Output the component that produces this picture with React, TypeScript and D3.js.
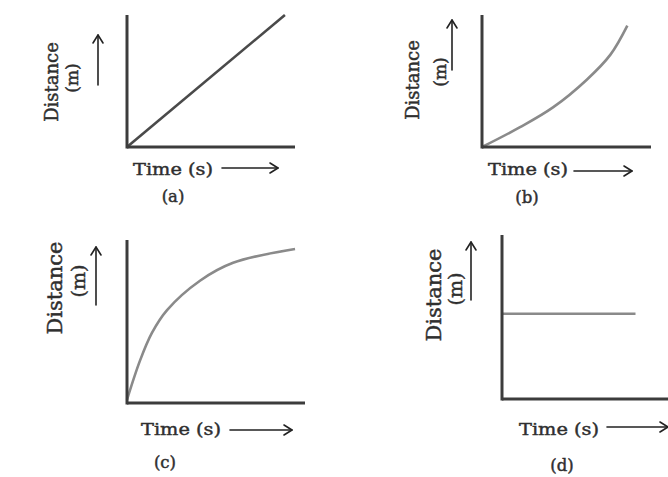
import React from 'react';
import * as d3 from 'd3';

// curve points in arbitrary units, 0..10 on both axes
const lineA = [[0, 0], [9.4, 10]];
const curveB = [[0, 0], [2.25, 1.5], [4.2, 3.0], [6.2, 5.1], [7.6, 7.0], [8.6, 9.2]];
const curveC = [[0, 0.2], [0.73, 2.6], [1.4, 4.3], [2.25, 5.7], [4.1, 7.5], [5.96, 8.6], [9.44, 9.45]];
const lineD = [[0, 5.2], [7.5, 5.2]];

const panelTags = ['(a)', '(b)', '(c)', '(d)'];
const xLabel = 'Time (s)';
const yLabel = 'Distance';
const yUnit = '(m)';

const FONT = '"DejaVu Serif", "Liberation Serif", serif';
const TXT = '#2f2f2f';

type Panel = {
  tag: string;
  data: number[][];
  ox: number; oy: number; xLen: number; yLen: number;
  curve: any; stroke: string;
  time: [number, number]; arrowX: [number, number, number];
  tagPos: [number, number];
  dist: [number, number, number]; unit: [number, number, number];
  arrowY: [number, number, number];
};

const smooth = d3.curveCatmullRom.alpha(0.5);

const panels: Panel[] = [
  { tag: panelTags[0], data: lineA, ox: 127, oy: 147, xLen: 168, yLen: 132, curve: d3.curveLinear, stroke: '#4a4a4a',
    time: [6, 28], arrowX: [95, 151, 21], tagPos: [46, 55],
    dist: [-69, -65, 18], unit: [-49, -69, 17], arrowY: [-29, -62, -112] },
  { tag: panelTags[1], data: curveB, ox: 482, oy: 147, xLen: 169, yLen: 132, curve: smooth, stroke: '#8a8a8a',
    time: [6, 28], arrowX: [92, 150, 24], tagPos: [45, 56],
    dist: [-63, -67, 18], unit: [-36, -75, 17], arrowY: [-30, -77, -127] },
  { tag: panelTags[2], data: curveC, ox: 127, oy: 403, xLen: 178, yLen: 163, curve: smooth, stroke: '#8a8a8a',
    time: [14, 32], arrowX: [103, 165, 27], tagPos: [38, 65],
    dist: [-65, -115, 21], unit: [-42, -122, 19], arrowY: [-31, -98, -156] },
  { tag: panelTags[3], data: lineD, ox: 502, oy: 399, xLen: 178, yLen: 164, curve: d3.curveLinear, stroke: '#8a8a8a',
    time: [17, 36], arrowX: [105, 166, 28], tagPos: [60, 72],
    dist: [-61, -104, 21], unit: [-40, -110, 19], arrowY: [-31, -99, -157] },
];

function Arrow({ x1, y1, x2, y2 }: { x1: number; y1: number; x2: number; y2: number }) {
  const ang = Math.atan2(y2 - y1, x2 - x1);
  const h = 8, w = 5;
  const p = (a: number, l: number) => [x2 - l * Math.cos(ang) + a * Math.sin(ang), y2 - l * Math.sin(ang) - a * Math.cos(ang)];
  const [ax, ay] = p(w, h);
  const [bx, by] = p(-w, h);
  return (
    <g stroke="#222" strokeWidth={1.6} fill="none" strokeLinecap="round" strokeLinejoin="round">
      <line x1={x1} y1={y1} x2={x2} y2={y2} />
      <polyline points={`${ax},${ay} ${x2},${y2} ${bx},${by}`} />
    </g>
  );
}

function PanelView({ p }: { p: Panel }) {
  const x = d3.scaleLinear().domain([0, 10]).range([p.ox, p.ox + p.xLen]);
  const y = d3.scaleLinear().domain([0, 10]).range([p.oy, p.oy - p.yLen]);
  const line = d3.line<number[]>().x(d => x(d[0])).y(d => y(d[1])).curve(p.curve);
  const txt = { fontFamily: FONT, fill: TXT, stroke: TXT, strokeWidth: 0.45 };
  return (
    <g>
      <path d={line(p.data) || ''} fill="none" stroke={p.stroke} strokeWidth={2.6} />
      <line x1={x(0)} y1={y(0)} x2={x(10)} y2={y(0)} stroke="#3c3c3c" strokeWidth={3} />
      <line x1={x(0)} y1={y(0) + 1.5} x2={x(0)} y2={y(10)} stroke="#3c3c3c" strokeWidth={3} />
      <text x={p.ox + p.time[0]} y={p.oy + p.time[1]} {...txt} fontSize={17.5}
        textLength={80} lengthAdjust="spacingAndGlyphs">{xLabel}</text>
      <Arrow x1={p.ox + p.arrowX[0]} y1={p.oy + p.arrowX[2]} x2={p.ox + p.arrowX[1]} y2={p.oy + p.arrowX[2]} />
      <text x={p.ox + p.tagPos[0]} y={p.oy + p.tagPos[1]} {...txt} fontSize={16.5}
        textAnchor="middle">{p.tag}</text>
      <text transform={`translate(${p.ox + p.dist[0]},${p.oy + p.dist[1]}) rotate(-90)`} {...txt}
        fontSize={p.dist[2]} textAnchor="middle">{yLabel}</text>
      <text transform={`translate(${p.ox + p.unit[0]},${p.oy + p.unit[1]}) rotate(-90)`} {...txt}
        fontSize={p.unit[2]} textAnchor="middle">{yUnit}</text>
      <Arrow x1={p.ox + p.arrowY[0]} y1={p.oy + p.arrowY[1]} x2={p.ox + p.arrowY[0]} y2={p.oy + p.arrowY[2]} />
    </g>
  );
}

export default function App() {
  return (
    <svg width={668} height={477} style={{ position: 'absolute', left: 0, top: 0, background: '#fff' }}>
      {panels.map(p => <PanelView key={p.tag} p={p} />)}
    </svg>
  );
}
